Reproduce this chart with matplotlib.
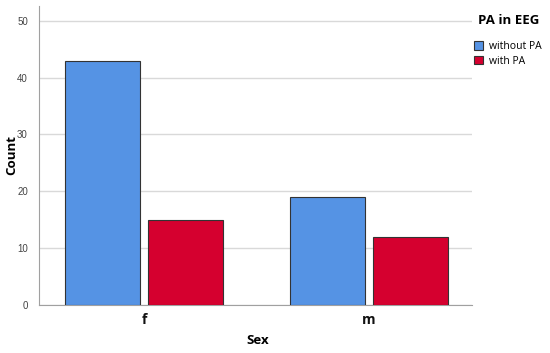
import numpy as np
import matplotlib.pyplot as plt

# data
categories = ["f", "m"]
without_pa = [43, 19]
with_pa = [15, 12]
series_names = ["without PA", "with PA"]
yticks = [0, 10, 20, 30, 40, 50]

blue = "#5593E4"
red = "#D5002F"

W, H = 550, 353
fig = plt.figure(figsize=(5.5, 3.53), dpi=100)
ax = fig.add_axes([39 / W, 1 - 305 / H, 433 / W, 299 / H])

x = np.arange(len(categories))
w = 0.333
off = 0.185
ax.bar(x - off, without_pa, w, color=blue, edgecolor="#333333", linewidth=0.8,
       label=series_names[0], zorder=3)
ax.bar(x + off, with_pa, w, color=red, edgecolor="#333333", linewidth=0.8,
       label=series_names[1], zorder=3)

ax.set_xlim(-0.467, 1.458)
ax.set_ylim(0, 52.6)
ax.set_yticks(yticks)
ax.set_xticks(x)
ax.set_xticklabels(categories, fontfamily="Open Sans", fontweight="bold",
                   fontsize=10, color="#111111")
ax.tick_params(axis="y", labelsize=7, labelcolor="#444444", length=0, pad=8)
ax.tick_params(axis="x", length=0, pad=6)
for t in ax.get_yticklabels():
    t.set_fontfamily("Liberation Sans")

ax.grid(axis="y", color="#D9D9D9", linewidth=1, zorder=0)
for s in ["top", "right"]:
    ax.spines[s].set_visible(False)
ax.spines["left"].set_color("#A0A0A0")
ax.spines["bottom"].set_color("#A0A0A0")

# axis titles placed like the reference
fig.text(12 / W, 1 - 155 / H, "Count", rotation=90, ha="center", va="center",
         fontfamily="Open Sans", fontweight="bold", fontsize=9.5)
fig.text(258 / W, 1 - 341 / H, "Sex", ha="center", va="center",
         fontfamily="Open Sans", fontweight="bold", fontsize=9.5)

# legend
fig.text(478 / W, 1 - 20 / H, "PA in EEG", ha="left", va="center",
         fontfamily="Open Sans", fontweight="bold", fontsize=9.5)
leg = ax.legend(loc="upper left", bbox_to_anchor=(474 / W, 1 - 41 / H),
                bbox_transform=fig.transFigure, frameon=False,
                borderpad=0, borderaxespad=0, handlelength=0.9,
                handleheight=0.9, handletextpad=0.5, labelspacing=0.35,
                prop={"family": "Open Sans", "size": 7.5})

fig.savefig("out.png", dpi=100)
